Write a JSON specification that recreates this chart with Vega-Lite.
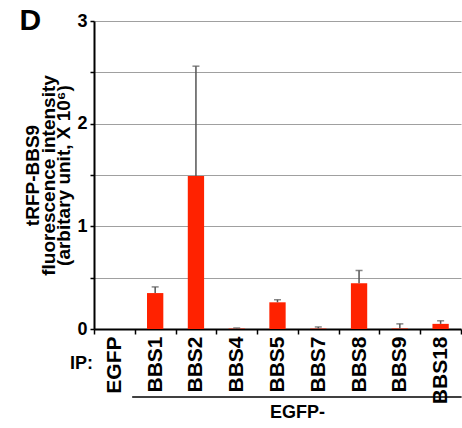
{
  "$schema": "https://vega.github.io/schema/vega-lite/v6.json",
  "autosize": {"type": "none"},
  "width": 367,
  "height": 308,
  "padding": {"left": 94, "top": 21, "right": 1, "bottom": 99},
  "background": "white",
  "config": {
    "view": {"stroke": null},
    "font": "Liberation Sans"
  },
  "datasets": {
    "bars": [
      {"ip": "EGFP", "value": 0, "err": 0},
      {"ip": "BBS1", "value": 0.35, "err": 0.41},
      {"ip": "BBS2", "value": 1.49, "err": 2.56},
      {"ip": "BBS4", "value": 0.004, "err": 0.01},
      {"ip": "BBS5", "value": 0.26, "err": 0.285},
      {"ip": "BBS7", "value": 0.004, "err": 0.02},
      {"ip": "BBS8", "value": 0.445, "err": 0.57},
      {"ip": "BBS9", "value": 0.005, "err": 0.05},
      {"ip": "BBS18", "value": 0.05, "err": 0.08}
    ],
    "bracket": [
      {"from": "BBS1", "to": "BBS18", "y": -0.662, "labelAt": "BBS5", "labelY": -0.823, "label": "EGFP-"}
    ],
    "ip": [
      {"ip": "EGFP", "y": -0.34, "label": "IP:"}
    ],
    "panel": [
      {"ip": "EGFP", "y": 3, "label": "D"}
    ]
  },
  "layer": [
    {
      "data": {"name": "bars"},
      "mark": {"type": "bar", "color": "#ff2200", "width": {"band": 0.4}},
      "encoding": {
        "x": {
          "field": "ip",
          "type": "nominal",
          "sort": null,
          "scale": {"paddingInner": 0, "paddingOuter": 0},
          "axis": {
            "title": null,
            "labelAngle": -90,
            "labelAlign": "right",
            "labelBaseline": "middle",
            "labelFont": "Liberation Sans",
            "labelFontSize": 21,
            "labelFontWeight": "bold",
            "labelColor": "black",
            "labelPadding": 2,
            "tickBand": "extent",
            "tickSize": 5,
            "tickColor": "black",
            "tickWidth": 1.5,
            "domainColor": "black",
            "domainWidth": 2,
            "grid": false
          }
        },
        "y": {
          "field": "value",
          "type": "quantitative",
          "scale": {"domain": [0, 3], "nice": false, "zero": true},
          "axis": {
            "title": ["tRFP-BBS9", "fluorescence intensity", "(arbitary unit, X 10⁶)"],
            "titleFont": "Liberation Sans",
            "titleFontSize": 19,
            "titleFontWeight": "bold",
            "titleColor": "black",
            "titleLineHeight": 15.5,
            "titlePadding": 3,
            "values": [0, 0.5, 1, 1.5, 2, 2.5, 3],
            "labelExpr": "datum.value % 1 === 0 ? format(datum.value, 'd') : ''",
            "labelFont": "Liberation Sans",
            "labelFontSize": 18,
            "labelFontWeight": "bold",
            "labelColor": "black",
            "labelPadding": 3,
            "tickSize": 4,
            "tickColor": "black",
            "tickWidth": 1.5,
            "domainColor": "black",
            "domainWidth": 2,
            "grid": true,
            "gridColor": "#a0a0a0",
            "gridWidth": 1
          }
        }
      }
    },
    {
      "data": {"name": "bars"},
      "transform": [{"filter": "datum.err > 0"}],
      "mark": {"type": "rule", "color": "#555555", "strokeWidth": 1.5},
      "encoding": {
        "x": {"field": "ip", "type": "nominal", "sort": null},
        "y": {"field": "value", "type": "quantitative"},
        "y2": {"field": "err"}
      }
    },
    {
      "data": {"name": "bars"},
      "transform": [{"filter": "datum.err > 0"}],
      "mark": {"type": "tick", "color": "#555555", "size": 7, "thickness": 1.5},
      "encoding": {
        "x": {"field": "ip", "type": "nominal", "sort": null},
        "y": {"field": "err", "type": "quantitative"}
      }
    },
    {
      "data": {"name": "bracket"},
      "mark": {"type": "rule", "color": "black", "strokeWidth": 1.5, "xOffset": -23, "x2Offset": 21, "clip": false},
      "encoding": {
        "x": {"field": "from", "type": "nominal", "sort": null},
        "x2": {"field": "to"},
        "y": {"field": "y", "type": "quantitative"}
      }
    },
    {
      "data": {"name": "bracket"},
      "mark": {"type": "text", "font": "Liberation Sans", "fontSize": 18, "fontWeight": "bold", "color": "black", "dx": 20, "align": "center", "baseline": "middle", "clip": false},
      "encoding": {
        "x": {"field": "labelAt", "type": "nominal", "sort": null},
        "y": {"field": "labelY", "type": "quantitative"},
        "text": {"field": "label"}
      }
    },
    {
      "data": {"name": "ip"},
      "mark": {"type": "text", "font": "Liberation Sans", "fontSize": 18, "fontWeight": "bold", "color": "black", "dx": -33, "align": "center", "baseline": "middle", "clip": false},
      "encoding": {
        "x": {"field": "ip", "type": "nominal", "sort": null},
        "y": {"field": "y", "type": "quantitative"},
        "text": {"field": "label"}
      }
    },
    {
      "data": {"name": "panel"},
      "mark": {"type": "text", "font": "Liberation Sans", "fontSize": 30, "fontWeight": "bold", "color": "black", "dx": -84, "dy": 0, "align": "center", "baseline": "middle", "clip": false},
      "encoding": {
        "x": {"field": "ip", "type": "nominal", "sort": null},
        "y": {"field": "y", "type": "quantitative"},
        "text": {"field": "label"}
      }
    }
  ]
}
